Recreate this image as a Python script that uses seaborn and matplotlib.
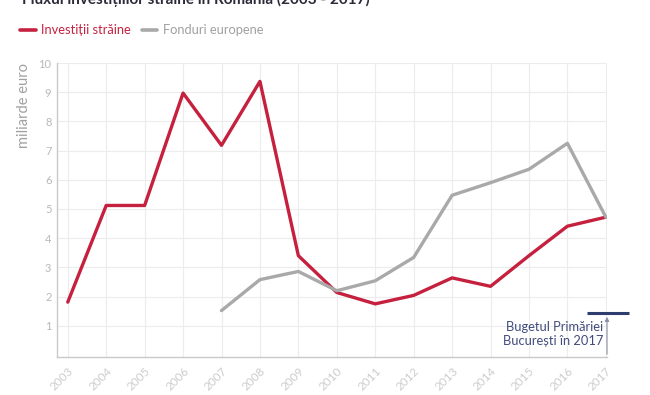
import numpy as np
import pandas as pd
import matplotlib
matplotlib.use("Agg")
import matplotlib.pyplot as plt
import seaborn as sns

years = list(range(2003, 2018))
investitii = [1.81, 5.12, 5.12, 8.97, 7.18, 9.37, 3.40, 2.14, 1.75, 2.04, 2.64, 2.35, 3.40, 4.41, 4.72]
fonduri = [np.nan, np.nan, np.nan, np.nan, 1.52, 2.58, 2.86, 2.20, 2.54, 3.34, 5.47, 5.90, 6.36, 7.25, 4.72]
buget_2017 = 1.45
yticks = list(range(1, 11))

RED = "#c5213f"
GRAY = "#a9a9a9"
NAVY = "#2f3c6e"

sns.set_theme(style="white")
plt.rcParams['font.family'] = ['Lato', 'DejaVu Sans']

df = pd.DataFrame({"an": years, "inv": investitii, "fon": fonduri})

fig = plt.figure(figsize=(6.5, 3.95), dpi=100)
ax = fig.add_axes([57/650, 1 - 357/395, (607-57)/650, (357-63)/395])

sns.lineplot(data=df, x="an", y="inv", color=RED, linewidth=2.4, ax=ax)
sns.lineplot(data=df.dropna(), x="an", y="fon", color=GRAY, linewidth=2.4, ax=ax)

ax.set_xlim(2002.72, 2017.03)
ax.set_ylim(-0.07, 10.0)
ax.set_xticks(years)
ax.set_xticklabels([str(y) for y in years], rotation=45, ha="right",
                   rotation_mode="anchor", color="#cccccc", fontsize=8.5)
ax.set_yticks(yticks)
ax.set_yticklabels([str(t) for t in yticks], color="#b8b8b8", fontsize=8)
ax.tick_params(axis="both", length=0, pad=4)
ax.tick_params(axis="x", pad=6)
ax.grid(True, color="#ececec", linewidth=0.8)
ax.set_axisbelow(True)
for s in ["top", "right"]:
    ax.spines[s].set_visible(False)
for s in ["left", "bottom"]:
    ax.spines[s].set_color("#c9c9c9")
    ax.spines[s].set_linewidth(1.0)
ax.set_xlabel("")
ax.set_ylabel("miliarde euro", color="#a0a0a0", fontsize=10.5, labelpad=10)
ax.yaxis.set_label_coords(-0.047, 1.0)
ax.yaxis.label.set_va("bottom")
ax.yaxis.label.set_ha("right")

# budget marker
ax.plot([2016.5, 2017.6], [buget_2017, buget_2017], color=NAVY, linewidth=2.2,
        clip_on=False, solid_capstyle="butt")
ax.annotate("", xy=(2017.03, buget_2017 - 0.05), xytext=(2017.03, -0.07),
            arrowprops=dict(arrowstyle="-|>", color="#8a8fa5", lw=0.8,
                            mutation_scale=6), annotation_clip=False)
ax.text(2016.93, 0.72, "Bugetul Primăriei\nBucurești în 2017", ha="right",
        va="center", color="#414c7c", fontsize=9.3, linespacing=1.25)

# title (partially cut off at top, as in the source image)
fig.text(22/650, 1.0 + 1/395, "Fluxul investițiilor străine în România (2003 - 2017)",
         ha="left", va="center", fontsize=11, fontweight="bold", color="#2b2b3a")

# legend
fig.lines.append(plt.Line2D([20/650, 36/650], [1 - 30/395, 1 - 30/395],
                            transform=fig.transFigure, color=RED, linewidth=2.6))
fig.text(41/650, 1 - 30/395, "Investiții străine", color=RED, fontsize=9.3,
         va="center", ha="left")
fig.lines.append(plt.Line2D([142/650, 157/650], [1 - 30/395, 1 - 30/395],
                            transform=fig.transFigure, color=GRAY, linewidth=2.6))
fig.text(163/650, 1 - 30/395, "Fonduri europene", color="#a0a0a0", fontsize=9.3,
         va="center", ha="left")

fig.savefig("out.png", dpi=100)
